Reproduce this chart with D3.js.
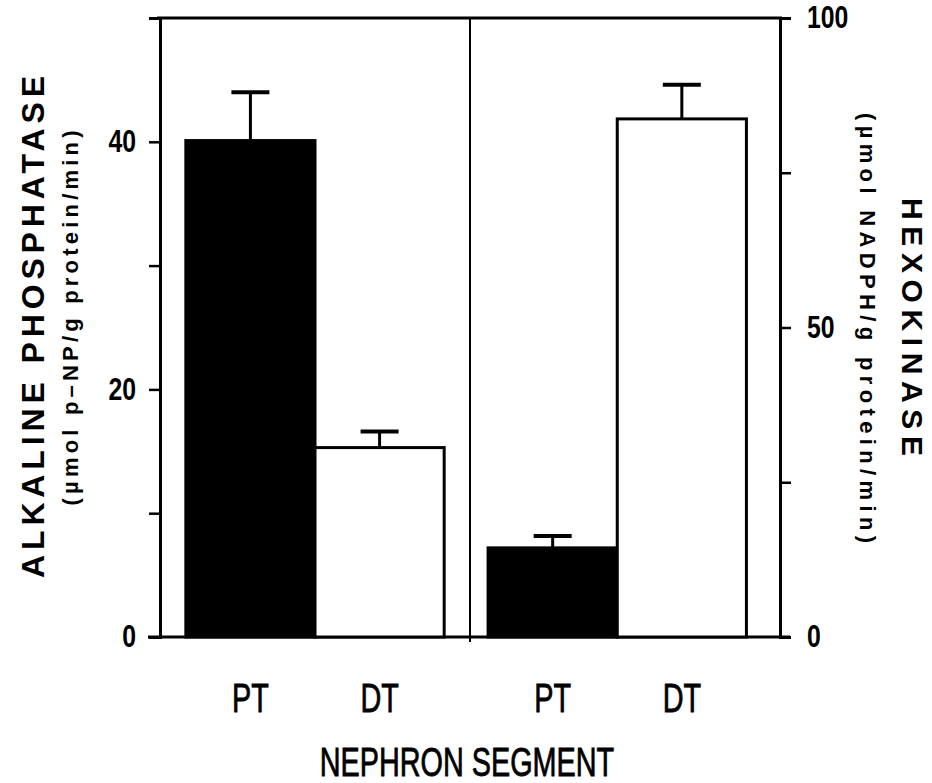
<!DOCTYPE html>
<html>
<head>
<meta charset="utf-8">
<script src="https://cdn.jsdelivr.net/npm/d3@7"></script>
<style>
  body { margin: 0; background: #fff; }
  .tick text { font-family: "Liberation Sans", Arial, sans-serif; font-weight: bold; }
  .lbl { font-family: "Liberation Sans", Arial, sans-serif; font-weight: bold; }
  .cat { font-family: "Liberation Sans", Arial, sans-serif; }
</style>
</head>
<body>
<svg id="chart" width="932" height="783"></svg>
<script>
  // nephron segments shown in each panel
  var segments = ["PT", "DT"];
  var panels = ["alkaline", "hexokinase"];

  // alkaline phosphatase (left axis), umol p-NP/g protein/min
  var alkalineMeans = [40.1, 15.3];
  var alkalineErr = [3.9, 1.3];

  // hexokinase (right axis), umol NADPH/g protein/min
  var hexoMeans = [14.4, 83.7];
  var hexoErr = [1.9, 5.5];

  var leftTicks = [0, 10, 20, 30, 40];
  var leftLabels = [0, 20, 40];
  var rightTicks = [0, 25, 50, 75, 100];
  var rightLabels = [0, 50, 100];

  var m = {left: 160, right: 780, top: 18, bottom: 637};
  var svg = d3.select("#chart");

  var yLeft = d3.scaleLinear().domain([0, 50]).range([m.bottom, m.top]);
  var yRight = d3.scaleLinear().domain([0, 100]).range([m.bottom, m.top]);

  var panelX = d3.scaleBand().domain(panels).range([m.left, m.right]);

  function segX(panel, align) {
    var x0 = panelX(panel);
    return d3.scaleBand().domain(segments)
      .range([x0, x0 + panelX.bandwidth()])
      .paddingInner(0).paddingOuter(0.2).align(align);
  }

  // squeeze glyphs to imitate the condensed face of the original
  function narrow(sel, k) {
    sel.each(function() {
      var len = this.getComputedTextLength();
      if (len > 0) d3.select(this).attr("textLength", len * k).attr("lengthAdjust", "spacingAndGlyphs");
    });
  }

  // frame: top line, bottom line, divider
  svg.append("line").attr("x1", m.left - 3).attr("x2", m.right + 2)
    .attr("y1", m.top).attr("y2", m.top)
    .attr("stroke", "#000").attr("stroke-width", 3);
  svg.append("line").attr("x1", m.left - 12).attr("x2", m.right + 10)
    .attr("y1", m.bottom).attr("y2", m.bottom)
    .attr("stroke", "#000").attr("stroke-width", 3);
  svg.append("line").attr("x1", panelX("hexokinase")).attr("x2", panelX("hexokinase"))
    .attr("y1", m.top).attr("y2", m.bottom + 5)
    .attr("stroke", "#000").attr("stroke-width", 2);

  // axes
  var gl = svg.append("g").attr("transform", "translate(" + m.left + ",0)")
    .call(d3.axisLeft(yLeft).tickValues(leftTicks).tickSize(11).tickPadding(13)
      .tickFormat(function(d) { return leftLabels.indexOf(d) >= 0 ? d : ""; }));
  var gr = svg.append("g").attr("transform", "translate(" + m.right + ",0)")
    .call(d3.axisRight(yRight).tickValues(rightTicks).tickSize(11).tickPadding(16)
      .tickFormat(function(d) { return rightLabels.indexOf(d) >= 0 ? d : ""; }));
  [gl, gr].forEach(function(g) {
    g.select(".domain").attr("stroke-width", 3);
    g.selectAll(".tick line").attr("stroke-width", 2.5);
    g.selectAll(".tick text").attr("font-size", 31).attr("fill", "#000").call(narrow, 0.8);
  });

  function drawPanel(panel, means, errs, y, align) {
    var x = segX(panel, align);
    var data = segments.map(function(s, i) { return {seg: s, v: means[i], e: errs[i]}; });
    var g = svg.append("g");

    g.selectAll("rect").data(data).enter().append("rect")
      .attr("x", function(d) { return x(d.seg); })
      .attr("width", x.bandwidth())
      .attr("y", function(d) { return y(d.v); })
      .attr("height", function(d) { return y(0) - y(d.v); })
      .attr("fill", function(d) { return d.seg === "PT" ? "#000" : "#fff"; })
      .attr("stroke", "#000").attr("stroke-width", 3);

    g.selectAll(".err").data(data).enter().append("line")
      .attr("x1", function(d) { return x(d.seg) + x.bandwidth() / 2; })
      .attr("x2", function(d) { return x(d.seg) + x.bandwidth() / 2; })
      .attr("y1", function(d) { return y(d.v); })
      .attr("y2", function(d) { return y(d.v + d.e); })
      .attr("stroke", "#000").attr("stroke-width", 3);

    g.selectAll(".cap").data(data).enter().append("line")
      .attr("x1", function(d) { return x(d.seg) + x.bandwidth() / 2 - 19; })
      .attr("x2", function(d) { return x(d.seg) + x.bandwidth() / 2 + 19; })
      .attr("y1", function(d) { return y(d.v + d.e); })
      .attr("y2", function(d) { return y(d.v + d.e); })
      .attr("stroke", "#000").attr("stroke-width", 4);

    g.selectAll(".cat").data(data).enter().append("text")
      .attr("class", "cat")
      .attr("x", function(d) { return x(d.seg) + x.bandwidth() / 2; })
      .attr("y", 712)
      .attr("text-anchor", "middle")
      .attr("font-size", 40)
      .attr("stroke", "#000").attr("stroke-width", 0.8)
      .text(function(d) { return d.seg; })
      .call(narrow, 0.72);
  }

  drawPanel("alkaline", alkalineMeans, alkalineErr, yLeft, 0.5);
  drawPanel("hexokinase", hexoMeans, hexoErr, yRight, 0.35);

  svg.append("text").attr("class", "cat")
    .attr("x", 467).attr("y", 776).attr("text-anchor", "middle")
    .attr("font-size", 40).attr("stroke", "#000").attr("stroke-width", 0.8)
    .text("NEPHRON SEGMENT")
    .call(narrow, 0.72);

  // axis titles
  function vtext(x, y, rot, size, len, str) {
    svg.append("text").attr("class", "lbl")
      .attr("transform", "translate(" + x + "," + y + ") rotate(" + rot + ")")
      .attr("text-anchor", "middle").attr("dominant-baseline", "central")
      .attr("font-size", size)
      .attr("textLength", len).attr("lengthAdjust", "spacing")
      .text(str);
  }
  vtext(33, 327, -90, 32, 502, "ALKALINE PHOSPHATASE");
  vtext(70, 318, -90, 22, 375, "(\u00b5mol p\u2013NP/g protein/min)");
  vtext(912, 327, 90, 30, 258, "HEXOKINASE");
  vtext(867, 328, 90, 22, 430, "(\u00b5mol NADPH/g protein/min)");
</script>
</body>
</html>
